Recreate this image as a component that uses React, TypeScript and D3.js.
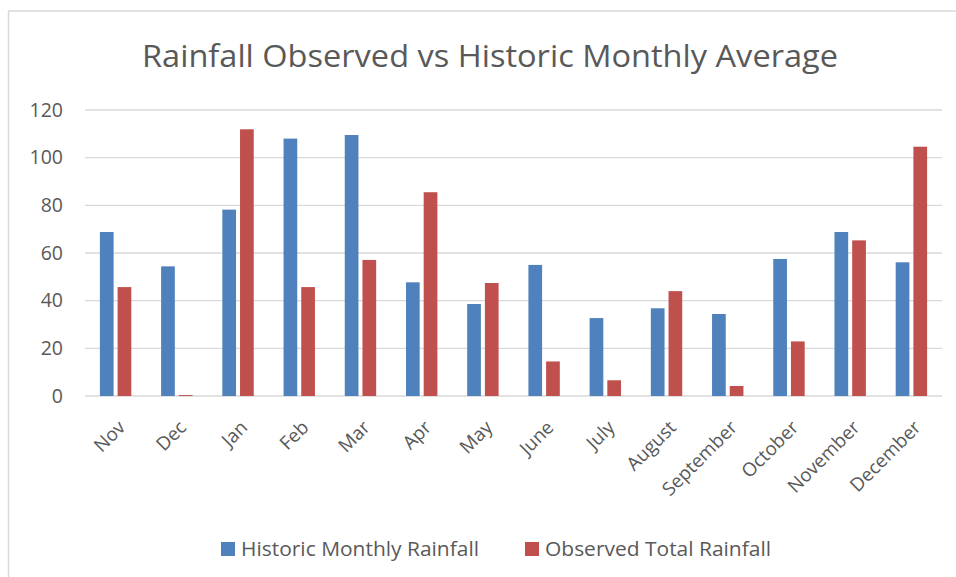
import React from "react";
import * as d3 from "d3";

const months = ["Nov", "Dec", "Jan", "Feb", "Mar", "Apr", "May", "June", "July", "August", "September", "October", "November", "December"];
const historic = [68.8, 54.4, 78.2, 108, 109.5, 47.7, 38.6, 55, 32.7, 36.8, 34.4, 57.5, 68.8, 56.1];
const observed = [45.7, 0.4, 111.9, 45.7, 57.1, 85.5, 47.4, 14.5, 6.6, 44, 4.2, 22.9, 65.3, 104.6];
const yTicks = [0, 20, 40, 60, 80, 100, 120];
const seriesNames = ["Historic Monthly Rainfall", "Observed Total Rainfall"];
const seriesColors = ["#4f81bd", "#c0504d"];

const W = 956;
const H = 577;
const plot = { left: 85, right: 942, top: 110, bottom: 396 };
const textColor = "#595959";
const gridColor = "#d9d9d9";
const font = "'Open Sans', 'DejaVu Sans', sans-serif";

const App = () => {
  const x = d3.scaleBand().domain(months).range([plot.left, plot.right]);
  const y = d3.scaleLinear().domain([0, 120]).range([plot.bottom, plot.top]);
  const barW = 13.7;
  const gap = 4;
  const series = [historic, observed];

  // legend layout
  const legend = [
    { sq: 221, tx: 241, len: 238 },
    { sq: 525, tx: 545, len: 226 },
  ];

  return (
    <svg width={W} height={H} style={{ position: "absolute", left: 0, top: 0 }} fontFamily={font}>
      <rect x={0} y={0} width={W} height={H} fill="#fff" />
      <rect x={8.5} y={11} width={W + 20} height={H + 20} fill="none" stroke={gridColor} strokeWidth={1.5} />

      <text x={490} y={67} textAnchor="middle" fontSize={31} fill={textColor} textLength={696} lengthAdjust="spacingAndGlyphs">
        Rainfall Observed vs Historic Monthly Average
      </text>

      {yTicks.map(t => (
        <g key={t}>
          <line x1={plot.left} x2={plot.right} y1={y(t)} y2={y(t)} stroke={gridColor} strokeWidth={1.3} />
          <text x={63} y={y(t)} dy="0.35em" textAnchor="end" fontSize={19.5} fill={textColor}>
            {t}
          </text>
        </g>
      ))}

      {series.map((vals, si) =>
        vals.map((v, i) => {
          const c = x(months[i])! + x.bandwidth() / 2;
          const bx = si === 0 ? c - gap / 2 - barW : c + gap / 2;
          return (
            <rect key={si + "-" + i} x={bx} y={y(v)} width={barW} height={y(0) - y(v)} fill={seriesColors[si]} />
          );
        })
      )}

      {months.map(m => {
        const cx = x(m)! + x.bandwidth() / 2 + 6;
        const cy = 424;
        return (
          <text key={m} transform={`translate(${cx},${cy}) rotate(-45)`} textAnchor="end" fontSize={18.8} fill={textColor} dy="0.35em">
            {m}
          </text>
        );
      })}

      {legend.map((l, i) => (
        <g key={i}>
          <rect x={l.sq} y={542} width={14} height={14} fill={seriesColors[i]} />
          <text x={l.tx} y={549} dy="0.35em" fontSize={19.5} fill={textColor} textLength={l.len} lengthAdjust="spacingAndGlyphs">
            {seriesNames[i]}
          </text>
        </g>
      ))}
    </svg>
  );
};

export default App;
